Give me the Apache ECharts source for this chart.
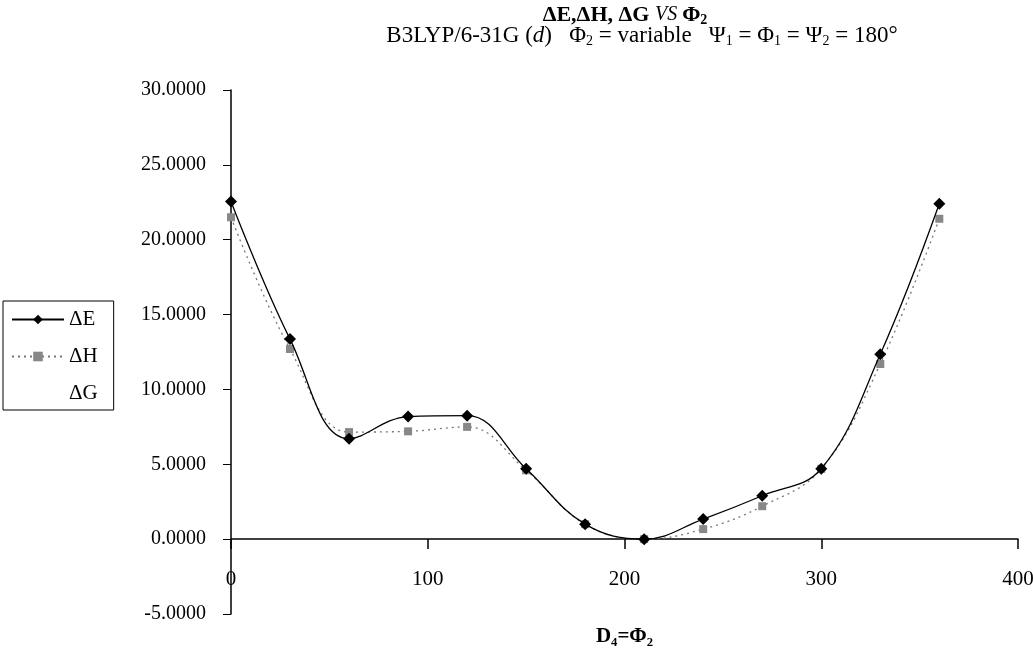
<!DOCTYPE html>
<html>
<head>
<meta charset="utf-8">
<script src="https://cdn.jsdelivr.net/npm/echarts@6/dist/echarts.min.js"></script>
<style>html,body{margin:0;padding:0;background:#fff;}#c{width:1033px;height:657px;}</style>
</head>
<body>
<div id="c"></div>
<script>
// Data
const phi2 = [0, 30, 60, 90, 120, 150, 180, 210, 240, 270, 300, 330, 360];
const dE   = [22.55, 13.36, 6.70, 8.19, 8.25, 4.70, 1.00, 0.00, 1.34, 2.90, 4.70, 12.35, 22.40];
const dH   = [21.50, 12.70, 7.15, 7.20, 7.50, 4.60, 1.00, 0.00, 0.67, 2.20, 4.70, 11.70, 21.40];
const dG   = [];
const seriesNames = ['\u0394E', '\u0394H', '\u0394G'];
const xTicks = [0, 100, 200, 300, 400];
const yTicks = [-5, 0, 5, 10, 15, 20, 25, 30];

const serif = '"Liberation Serif", "DejaVu Serif", serif';
const pairs = (xs, ys) => ys.map((v, i) => [xs[i], v]);

const chart = echarts.init(document.getElementById('c'), null, {renderer: 'canvas'});
chart.setOption({
  backgroundColor: '#fff',
  animation: false,
  graphic: [
    {type: 'text', x: 625, y: 3, style: {
      text: '{b|\u0394E,\u0394H, \u0394G }{i|VS }{b|\u03A6}{s|2}',
      align: 'center',
      rich: {
        b: {fontFamily: serif, fontWeight: 'bold', fontSize: 22, fill: '#000'},
        i: {fontFamily: serif, fontStyle: 'italic', fontSize: 20, fill: '#000'},
        s: {fontFamily: serif, fontWeight: 'bold', fontSize: 14, fill: '#000', padding: [10, 0, 0, 0]}
      }
    }},
    {type: 'text', x: 642, y: 24, style: {
      text: '{n|B3LYP/6-31G (}{i|d}{n|)   \u03A6}{s|2}{n| = variable   \u03A8}{s|1}{n| = \u03A6}{s|1}{n| = \u03A8}{s|2}{n| = 180\u00B0}',
      align: 'center',
      rich: {
        n: {fontFamily: serif, fontSize: 23, fill: '#000'},
        i: {fontFamily: serif, fontStyle: 'italic', fontSize: 23, fill: '#000'},
        s: {fontFamily: serif, fontSize: 14, fill: '#000', padding: [10, 0, 0, 0]}
      }
    }}
  ],
  legend: {
    orient: 'vertical',
    left: 3, top: 301,
    borderColor: '#000', borderWidth: 1, borderRadius: 0,
    padding: [8, 16, 6, 8],
    itemWidth: 52, itemHeight: 12, itemGap: 16,
    textStyle: {fontFamily: serif, fontSize: 21, color: '#000'},
    data: [
      {name: seriesNames[0]},
      {name: seriesNames[1]},
      {name: seriesNames[2], icon: 'none'}
    ]
  },
  grid: {left: 231, right: 15, top: 90, bottom: 43, containLabel: false, outerBoundsMode: 'none'},
  xAxis: {
    type: 'value', min: 0, max: 400, interval: 100,
    position: 'bottom', offset: -75,
    axisLine: {onZero: false, lineStyle: {color: '#000', width: 1.5}},
    axisTick: {show: true, inside: false, length: 10, lineStyle: {color: '#000', width: 1.5}},
    axisLabel: {margin: 30, fontFamily: serif, fontSize: 21, color: '#000',
      formatter: v => xTicks.indexOf(v) >= 0 ? String(v) : ''},
    splitLine: {show: false},
    name: 'D\u2084=\u03A6\u2082', nameLocation: 'middle', nameGap: 87,
    nameTextStyle: {fontFamily: serif, fontSize: 21, fontWeight: 'bold', color: '#000'}
  },
  yAxis: {
    type: 'value', min: -5, max: 30, interval: 5,
    axisLine: {show: true, onZero: false, lineStyle: {color: '#000', width: 1.5}},
    axisTick: {show: true, inside: false, length: 8, lineStyle: {color: '#000', width: 1}},
    axisLabel: {margin: 25, fontFamily: serif, fontSize: 20, color: '#000',
      formatter: v => yTicks.indexOf(v) >= 0 ? v.toFixed(4) : ''},
    splitLine: {show: false}
  },
  series: [
    {
      name: seriesNames[0], type: 'line', smooth: 0.4,
      data: pairs(phi2, dE),
      symbol: 'diamond', symbolSize: 12,
      lineStyle: {color: '#000', width: 1.3},
      itemStyle: {color: '#000'},
      z: 3
    },
    {
      name: seriesNames[1], type: 'line', smooth: 0.4,
      data: pairs(phi2, dH),
      symbol: 'rect', symbolSize: 8,
      lineStyle: {color: '#777', width: 1.3, type: [2, 4]},
      itemStyle: {color: '#888'},
      z: 2
    },
    {
      name: seriesNames[2], type: 'line',
      data: pairs(phi2, dG),
      symbol: 'none',
      lineStyle: {opacity: 0}
    }
  ]
});
</script>
</body>
</html>
